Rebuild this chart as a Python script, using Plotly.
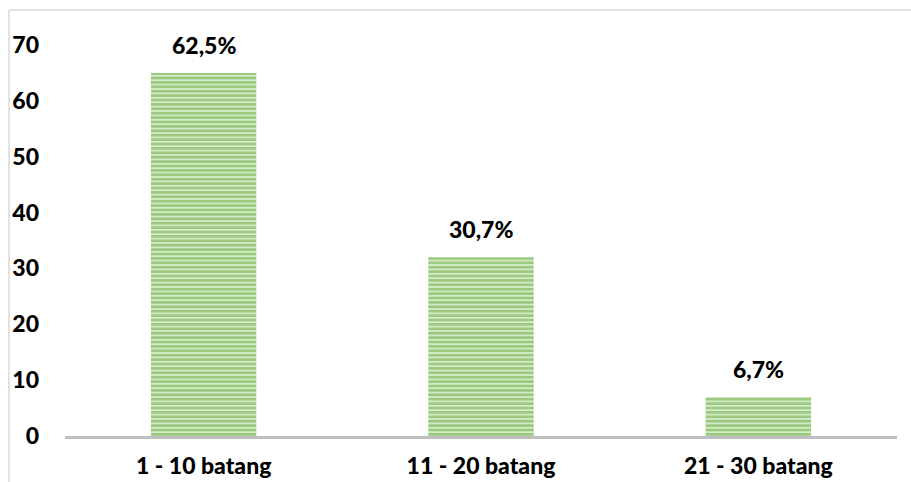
import math
import plotly.graph_objects as go

# Number of respondents by cigarettes smoked per day
categories = ["1 - 10 batang", "11 - 20 batang", "21 - 30 batang"]
counts = [65, 32, 7]
y_ticks = [0, 10, 20, 30, 40, 50, 60, 70]

total = sum(counts)
# share of respondents, truncated to one decimal, with a decimal comma
shares = [math.floor(c / total * 1000) / 10 for c in counts]
share_labels = [f"{s:.1f}%".replace(".", ",") for s in shares]

FONT = "Lato, Carlito, Calibri, sans-serif"

fig = go.Figure(
    go.Bar(
        x=categories,
        y=counts,
        width=0.38,
        marker=dict(
            color="#A9D18E",
            line=dict(width=0),
            pattern=dict(
                shape="-",
                fgcolor="#62A83A",
                bgcolor="#D4EBC6",
                size=4.4,
                solidity=0.6,
            ),
        ),
        hoverinfo="skip",
    )
)

for cat, val, lab in zip(categories, counts, share_labels):
    fig.add_annotation(
        x=cat, y=val, text=lab, showarrow=False,
        yanchor="bottom", yshift=12,
        font=dict(family=FONT, size=23, color="#000000", weight=900),
    )

# outer chart frame (top and left edges)
fig.add_shape(type="line", xref="paper", yref="paper",
              x0=-0.0673, x1=1.03, y0=1.0895, y1=1.0895,
              line=dict(color="#D9D9D9", width=1.5))
fig.add_shape(type="line", xref="paper", yref="paper",
              x0=-0.0673, x1=-0.0673, y0=1.0895, y1=-0.2,
              line=dict(color="#D9D9D9", width=1.5))

fig.update_layout(
    width=911, height=482,
    margin=dict(l=65, r=14, t=45, b=46),
    paper_bgcolor="white", plot_bgcolor="white",
    showlegend=False,
    font=dict(family=FONT, color="#000000"),
    xaxis=dict(
        showline=True, linecolor="#BFBFBF", linewidth=2.5,
        showgrid=False, ticks="", automargin=False,
        tickfont=dict(family=FONT, size=23, color="#000000", weight=900),
        ticklabelstandoff=8,
    ),
    yaxis=dict(
        range=[0, 70], tickvals=y_ticks, showgrid=False, zeroline=False,
        showline=False, ticks="", automargin=False,
        tickfont=dict(family=FONT, size=23, color="#000000", weight=900),
        ticklabelstandoff=25,
    ),
)

fig.write_html("out.html")
